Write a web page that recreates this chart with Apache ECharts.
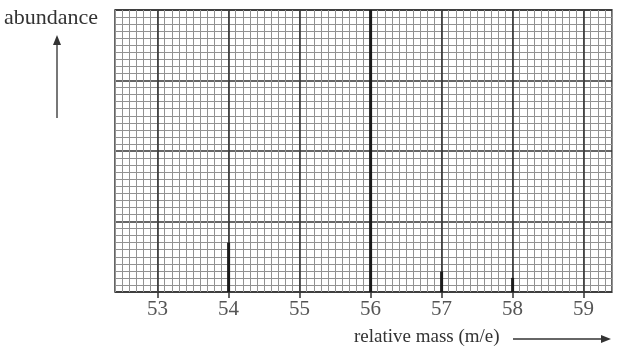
<!DOCTYPE html>
<html>
<head>
<meta charset="utf-8">
<script src="https://cdn.jsdelivr.net/npm/echarts@6/dist/echarts.min.js"></script>
<style>html,body{margin:0;padding:0;background:#fff;}#c{width:622px;height:354px;}</style>
</head>
<body>
<div id="c"></div>
<script>
// x range and ticks (relative mass m/e)
const xMin = 52.4;
const xMax = 59.4;
const majorTicks = [53, 54, 55, 56, 57, 58, 59];
// peaks: relative mass and abundance (grid units, 0..40)
const peakMasses = [54, 56, 57, 58];
const peakAbundance = [7, 40, 2.9, 2];
const yMax = 40;

const chart = echarts.init(document.getElementById('c'));
const serif = '"Liberation Serif", "DejaVu Serif", serif';
const majorColor = '#333333';
const minorColor = '#929292';

chart.setOption({
  animation: false,
  backgroundColor: '#ffffff',
  grid: { left: 115, right: 10, top: 10, bottom: 62, containLabel: false,
          show: true, borderColor: majorColor, borderWidth: 1.5, backgroundColor: 'transparent' },
  xAxis: [{
    // minor grid (every 0.1)
    type: 'value', min: xMin, max: xMax, interval: 0.1,
    axisLine: { show: false }, axisTick: { show: false }, axisLabel: { show: false },
    splitLine: { show: true, lineStyle: { color: minorColor, width: 1 } }
  }, {
    // labelled axis
    type: 'value', min: xMin, max: xMax, position: 'bottom',
    axisLine: { show: false },
    axisTick: { show: true, customValues: majorTicks, length: 6, lineStyle: { color: majorColor, width: 1.5 } },
    axisLabel: { show: true, customValues: majorTicks, margin: 7,
      fontFamily: serif, fontSize: 21, color: '#555',
      formatter: v => String(Math.round(v)) },
    splitLine: { show: false }
  }],
  yAxis: [{
    type: 'value', min: 0, max: yMax, interval: 10,
    axisLine: { show: false }, axisTick: { show: false }, axisLabel: { show: false },
    splitLine: { show: true, lineStyle: { color: majorColor, width: 1.5 } },
    minorTick: { show: false, splitNumber: 10 },
    minorSplitLine: { show: true, lineStyle: { color: minorColor, width: 1 } }
  }],
  series: [{
    type: 'bar',
    xAxisIndex: 1,
    barWidth: 3,
    z: 5,
    itemStyle: { color: '#1a1a1a' },
    data: peakMasses.map((m, i) => [m, peakAbundance[i]]),
    markLine: {
      silent: true, symbol: 'none', label: { show: false },
      lineStyle: { color: majorColor, width: 1.6, type: 'solid' },
      data: majorTicks.map(t => ({ xAxis: t }))
    }
  }],
  graphic: [
    { type: 'text', left: 4, top: 7, style: { text: 'abundance', font: '22px ' + serif, fill: '#333' } },
    { type: 'line', shape: { x1: 57, y1: 118, x2: 57, y2: 44 }, style: { stroke: '#777', lineWidth: 2 } },
    { type: 'polygon', shape: { points: [[57, 35], [53, 45], [61, 45]] }, style: { fill: '#333' } },
    { type: 'text', left: 354, top: 328, style: { text: 'relative mass (m/e)', font: '19px ' + serif, fill: '#333' } },
    { type: 'line', shape: { x1: 513, y1: 339, x2: 602, y2: 339 }, style: { stroke: '#333', lineWidth: 1.5 } },
    { type: 'polygon', shape: { points: [[611, 339], [601, 335], [601, 343]] }, style: { fill: '#333' } }
  ]
});
</script>
</body>
</html>
